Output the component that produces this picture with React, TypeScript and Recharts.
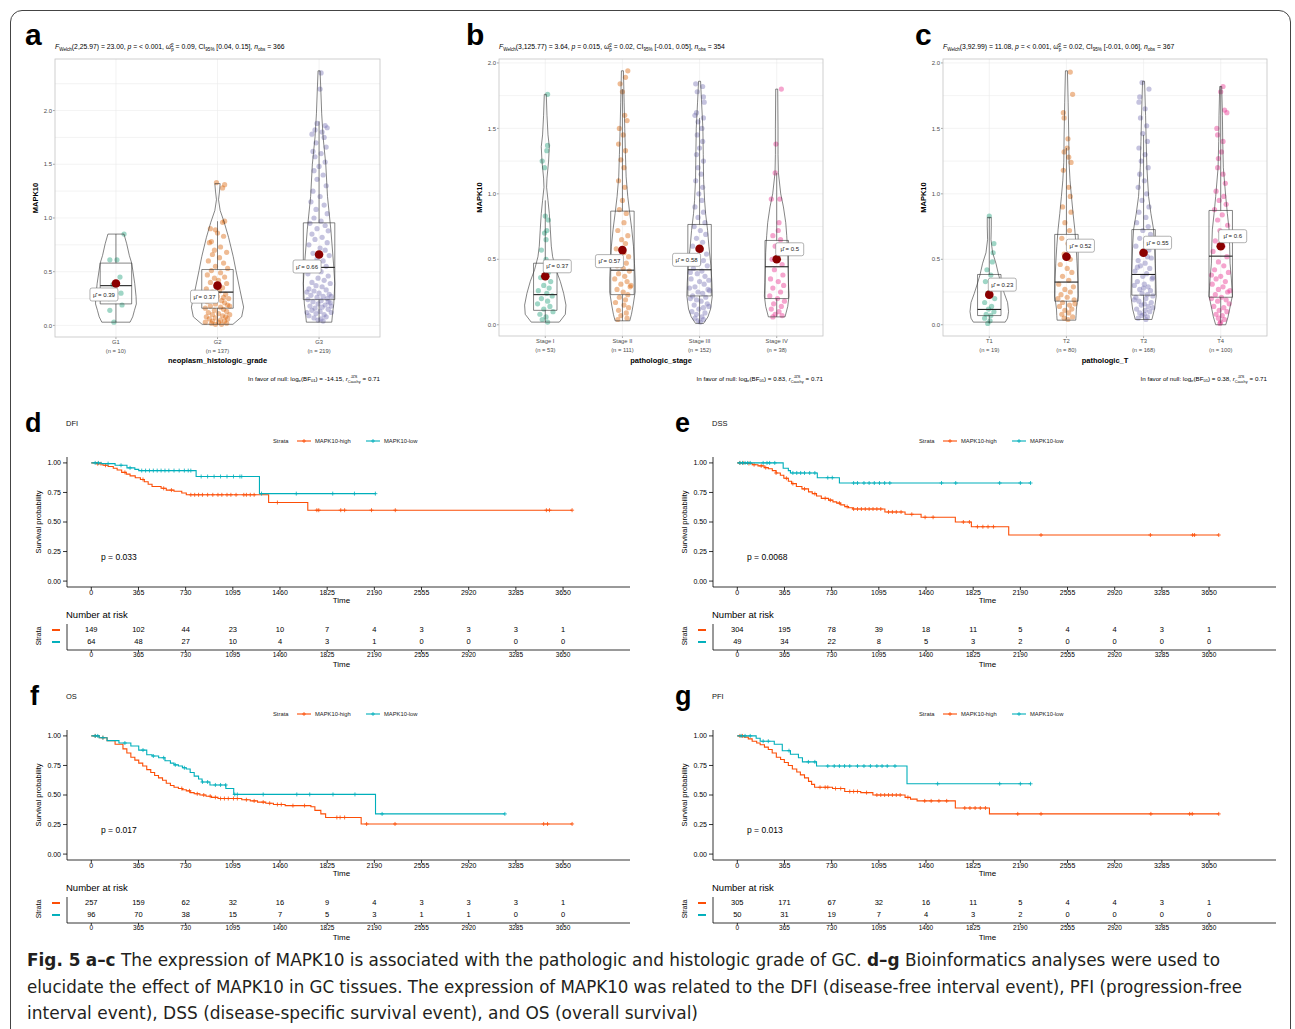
import React from 'react';
import { ComposedChart, ScatterChart, Scatter, XAxis, YAxis, CartesianGrid } from 'recharts';

const SANS = '"Liberation Sans", Arial, Helvetica, sans-serif';
const NARROW = '"Liberation Sans Narrow", "DejaVu Sans Condensed", "Liberation Sans", sans-serif';
const DARK2 = ['#1B9E77', '#D95F02', '#7570B3', '#E7298A'];
const HIGH = '#FC4E07';
const LOW = '#00AFBB';

// ---------- a: histologic grade ----------
const gradeCats = ['G1', 'G2', 'G3'];
const gradeN = [10, 137, 219];
const gradeQ1 = [0.2, 0.16, 0.24];
const gradeMed = [0.37, 0.31, 0.54];
const gradeQ3 = [0.58, 0.52, 0.955];
const gradeLo = [0.03, 0.01, 0.03];
const gradeHi = [0.85, 0.97, 1.9];
const gradeMean = [0.39, 0.37, 0.66];
// violin outline: [value, half width]
const gradeViolin = [
  [[0.85, 0.079], [0.76, 0.106], [0.65, 0.132], [0.58, 0.155], [0.5, 0.168], [0.39, 0.185], [0.27, 0.198], [0.2, 0.201], [0.14, 0.182], [0.08, 0.165], [0.03, 0.139]],
  [[1.32, 0.026], [1.25, 0.02], [1.17, 0.01], [1.07, 0.026], [0.96, 0.066], [0.82, 0.109], [0.64, 0.155], [0.51, 0.182], [0.33, 0.221], [0.17, 0.257], [0.08, 0.238], [0.01, 0.152]],
  [[2.37, 0.01], [2.2, 0.017], [1.97, 0.026], [1.75, 0.04], [1.5, 0.066], [1.2, 0.083], [0.89, 0.116], [0.58, 0.142], [0.39, 0.155], [0.2, 0.145], [0.1, 0.132], [0.03, 0.125]],
];
// points: [value, jitter]
const gradePoints = [
  [[0.85, 0.08], [0.61, -0.06], [0.61, 0.01], [0.45, 0.04], [0.38, -0.03], [0.3, 0.05], [0.25, -0.07], [0.19, 0.06], [0.14, -0.06], [0.03, -0.02]],
  [[1.33, -0.01], [1.31, 0.07], [1.28, 0.05], [0.97, 0.07], [0.96, 0.05], [0.9, -0.07], [0.89, -0.02], [0.86, 0.0], [0.83, 0.06], [0.78, -0.06], [0.77, -0.08], [0.73, 0.03], [0.7, -0.03], [0.68, 0.09], [0.66, -0.05], [0.63, 0.02], [0.6, -0.09], [0.58, 0.06], [0.55, -0.02], [0.53, 0.1], [0.51, -0.06], [0.49, 0.03], [0.47, -0.1], [0.45, 0.07], [0.44, -0.03], [0.42, 0.01], [0.4, -0.07], [0.39, 0.09], [0.37, -0.01], [0.35, 0.05], [0.34, -0.11], [0.32, 0.02], [0.31, -0.05], [0.29, 0.08], [0.28, -0.08], [0.27, 0.0], [0.25, 0.11], [0.24, -0.04], [0.23, 0.04], [0.22, -0.1], [0.21, 0.07], [0.2, -0.02], [0.19, 0.1], [0.18, -0.07], [0.17, 0.03], [0.16, -0.12], [0.15, 0.06], [0.14, -0.03], [0.13, 0.09], [0.12, -0.09], [0.11, 0.01], [0.1, 0.12], [0.1, -0.05], [0.09, 0.05], [0.08, -0.11], [0.08, 0.08], [0.07, -0.02], [0.06, 0.1], [0.06, -0.08], [0.05, 0.03], [0.04, -0.05], [0.04, 0.07], [0.03, -0.12], [0.03, 0.01], [0.02, 0.09], [0.02, -0.06], [0.01, 0.04], [0.01, -0.02], [0.26, 0.06], [0.18, 0.12]],
  [[2.35, 0.02], [2.2, 0.01], [1.88, -0.02], [1.86, 0.06], [1.84, 0.08], [1.82, -0.04], [1.8, 0.03], [1.78, -0.07], [1.75, 0.05], [1.7, -0.03], [1.66, 0.07], [1.62, -0.06], [1.6, 0.02], [1.57, -0.04], [1.52, 0.06], [1.48, 0.0], [1.44, -0.05], [1.4, 0.04], [1.36, -0.02], [1.3, 0.07], [1.25, -0.06], [1.2, 0.01], [1.15, -0.08], [1.12, 0.05], [1.08, -0.03], [1.04, 0.08], [1.0, -0.05], [0.97, 0.02], [0.95, -0.09], [0.93, 0.06], [0.9, -0.02], [0.88, 0.09], [0.85, -0.07], [0.82, 0.03], [0.8, -0.04], [0.77, 0.08], [0.75, -0.1], [0.72, 0.01], [0.7, 0.06], [0.67, -0.06], [0.65, 0.1], [0.62, -0.02], [0.6, 0.04], [0.57, -0.09], [0.55, 0.07], [0.52, -0.04], [0.5, 0.02], [0.48, -0.11], [0.46, 0.09], [0.44, -0.01], [0.42, 0.05], [0.4, -0.07], [0.39, 0.11], [0.37, -0.03], [0.36, 0.03], [0.34, -0.1], [0.33, 0.07], [0.32, -0.05], [0.3, 0.0], [0.29, 0.1], [0.28, -0.08], [0.27, 0.04], [0.26, -0.02], [0.25, 0.08], [0.24, -0.11], [0.23, 0.02], [0.22, -0.06], [0.21, 0.11], [0.2, -0.01], [0.19, 0.06], [0.18, -0.09], [0.17, 0.03], [0.16, -0.04], [0.15, 0.09], [0.14, -0.07], [0.13, 0.01], [0.12, 0.12], [0.11, -0.03], [0.1, 0.05], [0.09, -0.1], [0.08, 0.07], [0.07, -0.05], [0.06, 0.02], [0.05, -0.01], [0.04, 0.04], [0.31, -0.12], [0.27, 0.12], [0.22, 0.09], [0.18, 0.12], [0.12, -0.12]],
];
const gradeNudge = [[-12, 11], [-13, 11], [-12, 12]];

// ---------- b: pathologic stage ----------
const stageCats = ['Stage I', 'Stage II', 'Stage III', 'Stage IV'];
const stageN = [53, 111, 152, 38];
const stageQ1 = [0.11, 0.23, 0.22, 0.2];
const stageMed = [0.23, 0.417, 0.42, 0.443];
const stageQ3 = [0.47, 0.868, 0.766, 0.644];
const stageLo = [0.02, 0.03, 0.01, 0.06];
const stageHi = [0.95, 1.8, 1.58, 1.16];
const stageMean = [0.37, 0.57, 0.58, 0.5];
const stageViolin = [
  [[1.76, 0.013], [1.6, 0.022], [1.45, 0.035], [1.36, 0.052], [1.25, 0.043], [1.12, 0.022], [1.05, 0.017], [0.95, 0.035], [0.85, 0.052], [0.73, 0.065], [0.6, 0.078], [0.52, 0.095], [0.42, 0.139], [0.33, 0.195], [0.24, 0.238], [0.15, 0.268], [0.08, 0.26], [0.02, 0.182]],
  [[1.94, 0.013], [1.7, 0.022], [1.5, 0.03], [1.3, 0.039], [1.13, 0.048], [0.98, 0.069], [0.85, 0.095], [0.73, 0.121], [0.6, 0.143], [0.47, 0.156], [0.35, 0.165], [0.25, 0.165], [0.15, 0.139], [0.08, 0.117], [0.03, 0.095]],
  [[1.86, 0.013], [1.7, 0.026], [1.5, 0.043], [1.3, 0.048], [1.11, 0.052], [0.95, 0.065], [0.85, 0.078], [0.72, 0.104], [0.6, 0.121], [0.45, 0.147], [0.32, 0.16], [0.22, 0.165], [0.12, 0.143], [0.06, 0.108], [0.01, 0.052]],
  [[1.8, 0.013], [1.5, 0.017], [1.3, 0.017], [1.16, 0.022], [1.0, 0.052], [0.9, 0.087], [0.78, 0.117], [0.68, 0.13], [0.55, 0.143], [0.42, 0.147], [0.32, 0.152], [0.22, 0.16], [0.14, 0.143], [0.09, 0.121], [0.06, 0.108]],
];
const stagePoints = [
  [[1.76, 0.03], [1.37, 0.03], [1.33, 0.02], [1.25, -0.04], [1.2, -0.01], [0.83, 0.0], [0.8, 0.04], [0.72, 0.02], [0.7, -0.01], [0.65, 0.01], [0.57, -0.05], [0.5, 0.01], [0.4, 0.04], [0.36, -0.06], [0.33, 0.07], [0.3, -0.02], [0.28, 0.05], [0.26, -0.09], [0.24, 0.02], [0.22, 0.09], [0.2, -0.05], [0.18, 0.03], [0.16, -0.1], [0.14, 0.06], [0.12, -0.02], [0.1, 0.1], [0.08, -0.07], [0.06, 0.01], [0.04, -0.04], [0.02, 0.03]],
  [[1.94, 0.07], [1.89, 0.04], [1.84, -0.03], [1.78, 0.0], [1.6, 0.03], [1.56, 0.06], [1.5, -0.04], [1.45, 0.01], [1.38, -0.05], [1.33, 0.04], [1.26, -0.02], [1.2, 0.02], [1.1, -0.05], [1.05, 0.03], [0.95, 0.0], [0.88, -0.04], [0.85, 0.05], [0.78, 0.02], [0.72, -0.06], [0.68, 0.07], [0.65, -0.01], [0.62, 0.04], [0.58, -0.08], [0.55, 0.02], [0.52, 0.08], [0.5, -0.03], [0.47, 0.05], [0.45, -0.07], [0.43, 0.01], [0.41, 0.09], [0.39, -0.05], [0.37, 0.03], [0.35, -0.1], [0.33, 0.06], [0.31, -0.02], [0.29, 0.1], [0.27, -0.07], [0.25, 0.01], [0.23, 0.07], [0.21, -0.04], [0.19, 0.04], [0.17, -0.09], [0.15, 0.02], [0.13, 0.08], [0.11, -0.05], [0.09, 0.05], [0.07, -0.02], [0.05, 0.06], [0.04, -0.06], [0.3, 0.11]],
  [[1.84, -0.05], [1.82, 0.04], [1.78, -0.03], [1.74, 0.05], [1.7, 0.06], [1.62, -0.04], [1.6, -0.06], [1.58, 0.05], [1.55, -0.02], [1.5, 0.03], [1.45, -0.03], [1.4, 0.04], [1.35, 0.0], [1.3, -0.04], [1.25, 0.05], [1.2, -0.02], [1.15, 0.02], [1.1, -0.05], [1.05, 0.04], [1.0, -0.01], [0.95, 0.03], [0.9, -0.06], [0.86, 0.05], [0.82, -0.02], [0.78, 0.07], [0.75, -0.07], [0.72, 0.01], [0.69, 0.08], [0.66, -0.04], [0.63, 0.04], [0.6, -0.09], [0.57, 0.02], [0.54, 0.09], [0.51, -0.05], [0.49, 0.05], [0.47, -0.01], [0.45, 0.1], [0.43, -0.08], [0.41, 0.03], [0.39, -0.03], [0.37, 0.07], [0.35, -0.11], [0.33, 0.0], [0.31, 0.06], [0.29, -0.06], [0.27, 0.11], [0.25, -0.02], [0.24, 0.04], [0.22, -0.09], [0.21, 0.08], [0.19, -0.04], [0.18, 0.02], [0.16, 0.1], [0.15, -0.07], [0.13, 0.05], [0.12, -0.01], [0.1, -0.1], [0.09, 0.07], [0.08, -0.04], [0.06, 0.03], [0.05, -0.06], [0.04, 0.05], [0.03, -0.02], [0.02, 0.01], [0.26, 0.13], [0.34, 0.12], [0.2, -0.12], [0.28, -0.13], [0.14, 0.12], [0.4, -0.12]],
  [[1.8, 0.06], [1.38, -0.01], [1.16, -0.02], [0.96, -0.07], [0.96, 0.04], [0.78, 0.03], [0.72, 0.02], [0.68, -0.05], [0.65, 0.05], [0.6, -0.02], [0.55, 0.04], [0.5, -0.06], [0.46, 0.07], [0.42, -0.03], [0.38, 0.08], [0.35, -0.08], [0.33, 0.02], [0.3, 0.09], [0.28, -0.05], [0.25, 0.05], [0.22, -0.09], [0.2, 0.01], [0.18, 0.1], [0.16, -0.04], [0.14, 0.06], [0.12, -0.07], [0.1, 0.03], [0.08, -0.02], [0.07, 0.07], [0.06, -0.05]],
];
const stageNudge = [[12, -10], [-13, 11], [-13, 11], [13, -10]];

// ---------- c: pathologic T ----------
const tCats = ['T1', 'T2', 'T3', 'T4'];
const tN = [19, 80, 168, 100];
const tQ1 = [0.07, 0.18, 0.226, 0.21];
const tMed = [0.117, 0.326, 0.384, 0.524];
const tQ3 = [0.384, 0.69, 0.727, 0.873];
const tLo = [0.01, 0.04, 0.04, 0.01];
const tHi = [0.82, 1.35, 1.45, 1.82];
const tMean = [0.23, 0.52, 0.55, 0.6];
const tViolin = [
  [[0.82, 0.026], [0.75, 0.026], [0.65, 0.022], [0.55, 0.043], [0.47, 0.086], [0.38, 0.121], [0.32, 0.151], [0.24, 0.194], [0.17, 0.237], [0.1, 0.25], [0.05, 0.237], [0.02, 0.207]],
  [[1.94, 0.013], [1.7, 0.022], [1.45, 0.03], [1.24, 0.034], [1.1, 0.047], [0.98, 0.065], [0.85, 0.086], [0.73, 0.108], [0.6, 0.125], [0.47, 0.138], [0.35, 0.147], [0.22, 0.151], [0.12, 0.129], [0.07, 0.125], [0.035, 0.121]],
  [[1.86, 0.013], [1.6, 0.026], [1.4, 0.034], [1.2, 0.043], [0.98, 0.065], [0.85, 0.095], [0.73, 0.129], [0.6, 0.142], [0.47, 0.151], [0.35, 0.159], [0.22, 0.164], [0.12, 0.142], [0.09, 0.129], [0.04, 0.108]],
  [[1.82, 0.013], [1.6, 0.022], [1.4, 0.026], [1.2, 0.034], [0.98, 0.065], [0.85, 0.086], [0.73, 0.108], [0.6, 0.116], [0.47, 0.121], [0.35, 0.138], [0.22, 0.151], [0.12, 0.116], [0.06, 0.095], [0.0, 0.065]],
];
const tPoints = [
  [[0.83, 0.0], [0.62, 0.06], [0.55, 0.05], [0.48, 0.04], [0.42, -0.03], [0.38, 0.02], [0.33, -0.05], [0.28, 0.05], [0.24, -0.02], [0.2, 0.07], [0.17, -0.06], [0.14, 0.03], [0.12, -0.01], [0.1, 0.06], [0.08, -0.04], [0.07, 0.02], [0.05, -0.06], [0.03, 0.01], [0.01, -0.02]],
  [[1.93, 0.05], [1.76, 0.08], [1.62, -0.04], [1.58, -0.03], [1.42, 0.02], [1.35, 0.01], [1.32, -0.03], [1.28, 0.03], [1.24, 0.06], [1.18, -0.04], [1.05, 0.03], [0.98, 0.05], [0.9, -0.05], [0.86, 0.06], [0.78, -0.02], [0.72, 0.04], [0.66, -0.06], [0.62, 0.02], [0.58, 0.08], [0.54, -0.03], [0.5, 0.05], [0.46, -0.08], [0.43, 0.01], [0.4, 0.07], [0.37, -0.05], [0.34, 0.03], [0.31, -0.1], [0.29, 0.09], [0.27, -0.02], [0.25, 0.05], [0.23, -0.07], [0.21, 0.01], [0.19, 0.1], [0.17, -0.05], [0.15, 0.04], [0.14, -0.09], [0.12, 0.07], [0.11, -0.02], [0.09, 0.03], [0.08, -0.06], [0.06, 0.08], [0.05, -0.03], [0.04, 0.02], [0.2, -0.11], [0.16, 0.11]],
  [[1.85, -0.02], [1.8, 0.07], [1.74, -0.05], [1.7, -0.06], [1.65, 0.02], [1.58, -0.04], [1.52, 0.04], [1.46, -0.01], [1.4, 0.05], [1.35, -0.06], [1.3, 0.02], [1.25, -0.03], [1.2, 0.06], [1.15, -0.05], [1.1, 0.01], [1.05, -0.07], [1.0, 0.04], [0.95, -0.02], [0.9, 0.07], [0.86, -0.06], [0.82, 0.03], [0.78, -0.09], [0.75, 0.06], [0.72, -0.01], [0.69, 0.09], [0.66, -0.05], [0.63, 0.03], [0.6, -0.1], [0.57, 0.07], [0.54, -0.02], [0.51, 0.1], [0.49, -0.07], [0.47, 0.02], [0.45, -0.04], [0.43, 0.08], [0.41, -0.11], [0.39, 0.04], [0.37, -0.01], [0.35, 0.11], [0.33, -0.08], [0.31, 0.01], [0.29, 0.06], [0.27, -0.05], [0.26, 0.09], [0.24, -0.02], [0.23, 0.05], [0.21, -0.1], [0.2, 0.03], [0.18, -0.06], [0.17, 0.1], [0.15, -0.03], [0.14, 0.06], [0.12, -0.09], [0.11, 0.02], [0.1, 0.08], [0.09, -0.05], [0.08, 0.01], [0.07, -0.02], [0.06, 0.05], [0.05, -0.07], [0.04, 0.03], [0.3, -0.12], [0.22, 0.12], [0.36, 0.12], [0.19, -0.12], [0.44, -0.08], [0.52, 0.05], [0.28, 0.0], [0.16, 0.01], [0.13, 0.12]],
  [[1.82, 0.03], [1.78, 0.0], [1.64, 0.05], [1.62, 0.08], [1.5, -0.05], [1.45, -0.04], [1.4, 0.03], [1.32, 0.01], [1.27, -0.03], [1.2, -0.04], [1.15, 0.03], [1.08, 0.06], [1.02, -0.06], [0.98, 0.04], [0.95, -0.02], [0.92, 0.07], [0.88, -0.08], [0.84, 0.02], [0.8, -0.04], [0.76, 0.09], [0.72, -0.01], [0.68, 0.05], [0.64, -0.07], [0.6, 0.03], [0.56, -0.1], [0.52, 0.08], [0.48, -0.03], [0.45, 0.04], [0.42, -0.08], [0.4, 0.1], [0.37, 0.0], [0.35, -0.06], [0.33, 0.06], [0.31, -0.11], [0.29, 0.03], [0.27, -0.03], [0.25, 0.09], [0.23, -0.07], [0.21, 0.01], [0.19, 0.07], [0.18, -0.04], [0.16, 0.11], [0.14, -0.09], [0.13, 0.04], [0.11, -0.02], [0.1, 0.08], [0.08, -0.06], [0.07, 0.02], [0.05, -0.03], [0.04, 0.05], [0.02, 0.0], [0.01, -0.01], [0.26, 0.12], [0.2, -0.12], [0.38, -0.12]],
];
const tNudge = [[13, -10], [14, -11], [14, -10], [12, -10]];

const exprTicks = [0, 0.5, 1, 1.5, 2];
const exprGrid = [0, 0.25, 0.5, 0.75, 1, 1.25, 1.5, 1.75, 2, 2.25];

// ---------- survival ----------
const timeTicks = [0, 365, 730, 1095, 1460, 1825, 2190, 2555, 2920, 3285, 3650];
const survTicks = [0, 0.25, 0.5, 0.75, 1];

const dfiHigh = [[0, 1], [40, 0.993], [90, 0.98], [130, 0.97], [170, 0.955], [200, 0.94], [235, 0.92], [270, 0.905], [300, 0.89], [340, 0.875], [380, 0.86], [410, 0.84], [440, 0.82], [470, 0.8], [540, 0.785], [580, 0.77], [640, 0.76], [700, 0.745], [735, 0.73], [1372, 0.665], [1675, 0.6], [3720, 0.6]];
const dfiLow = [[0, 1], [77, 0.994], [184, 0.98], [276, 0.958], [337, 0.945], [367, 0.935], [811, 0.885], [1301, 0.74], [2198, 0.74]];
const dfiHighCens = [50, 75, 110, 260, 400, 560, 620, 770, 800, 830, 860, 900, 940, 980, 1010, 1050, 1080, 1120, 1180, 1200, 1230, 1260, 1440, 1745, 1760, 1930, 1960, 2168, 2352, 3521, 3545, 3720];
const dfiLowCens = [30, 55, 130, 230, 300, 390, 420, 450, 480, 510, 540, 570, 600, 640, 680, 720, 750, 770, 850, 900, 950, 1000, 1050, 1100, 1150, 1164, 1317, 1586, 1868, 2036, 2198];
const dfiRiskHigh = [149, 102, 44, 23, 10, 7, 4, 3, 3, 3, 1];
const dfiRiskLow = [64, 48, 27, 10, 4, 3, 1, 0, 0, 0, 0];

const dssHigh = [[0, 1], [60, 0.995], [115, 0.985], [160, 0.975], [208, 0.96], [240, 0.95], [271, 0.935], [300, 0.915], [333, 0.895], [360, 0.87], [395, 0.845], [420, 0.825], [457, 0.8], [500, 0.78], [551, 0.755], [580, 0.74], [613, 0.72], [650, 0.7], [706, 0.685], [740, 0.67], [769, 0.66], [800, 0.645], [831, 0.63], [860, 0.62], [893, 0.61], [1142, 0.585], [1298, 0.565], [1422, 0.54], [1687, 0.5], [1811, 0.46], [2100, 0.39], [3725, 0.39]];
const dssLow = [[0, 1], [355, 0.955], [395, 0.935], [411, 0.915], [619, 0.875], [790, 0.83], [2269, 0.83]];
const dssHighCens = [20, 45, 90, 130, 185, 220, 300, 380, 430, 520, 600, 680, 720, 790, 850, 900, 930, 960, 990, 1020, 1050, 1080, 1110, 1170, 1200, 1230, 1267, 1350, 1453, 1515, 1749, 1796, 1858, 1900, 1940, 1982, 2350, 3196, 3523, 3538, 3725];
const dssLowCens = [20, 40, 60, 80, 100, 200, 230, 250, 290, 430, 460, 490, 520, 560, 600, 700, 735, 900, 930, 980, 1020, 1060, 1100, 1140, 1180, 1580, 1690, 2030, 2190, 2269];
const dssRiskHigh = [304, 195, 78, 39, 18, 11, 5, 4, 4, 3, 1];
const dssRiskLow = [49, 34, 22, 8, 5, 3, 2, 0, 0, 0, 0];

const osHigh = [[0, 1], [61, 0.985], [122, 0.96], [184, 0.93], [245, 0.89], [275, 0.855], [306, 0.82], [337, 0.795], [367, 0.77], [398, 0.745], [429, 0.715], [460, 0.69], [490, 0.665], [520, 0.645], [551, 0.625], [580, 0.6], [612, 0.58], [640, 0.565], [674, 0.555], [705, 0.545], [735, 0.535], [765, 0.52], [796, 0.51], [840, 0.5], [888, 0.49], [930, 0.48], [980, 0.47], [1164, 0.46], [1230, 0.45], [1286, 0.44], [1350, 0.43], [1409, 0.42], [1500, 0.41], [1699, 0.4], [1730, 0.37], [1776, 0.34], [1813, 0.31], [2088, 0.255], [3720, 0.255]];
const osLow = [[0, 1], [61, 0.985], [122, 0.96], [214, 0.94], [306, 0.915], [367, 0.88], [429, 0.84], [470, 0.83], [521, 0.815], [570, 0.79], [612, 0.77], [640, 0.755], [674, 0.745], [705, 0.73], [735, 0.72], [765, 0.69], [796, 0.66], [830, 0.635], [857, 0.61], [918, 0.585], [1041, 0.555], [1102, 0.505], [2199, 0.34], [3200, 0.34]];
const osHighCens = [30, 90, 700, 760, 820, 870, 920, 960, 1000, 1030, 1060, 1100, 1130, 1200, 1260, 1330, 1380, 1440, 1470, 1560, 1650, 1900, 1925, 1960, 2130, 2350, 3500, 3530, 3720];
const osLowCens = [30, 50, 90, 260, 400, 480, 560, 650, 720, 860, 900, 960, 1000, 1040, 1110, 1130, 1330, 1590, 1690, 1870, 2040, 2250, 3200];
const osRiskHigh = [257, 159, 62, 32, 16, 9, 4, 3, 3, 3, 1];
const osRiskLow = [96, 70, 38, 15, 7, 5, 3, 1, 1, 0, 0];

const pfiHigh = [[0, 1], [53, 0.99], [85, 0.975], [115, 0.955], [150, 0.94], [177, 0.925], [210, 0.905], [240, 0.885], [270, 0.855], [302, 0.82], [335, 0.8], [364, 0.775], [395, 0.75], [426, 0.72], [460, 0.695], [488, 0.67], [520, 0.645], [551, 0.615], [575, 0.59], [598, 0.565], [737, 0.555], [831, 0.53], [955, 0.52], [1049, 0.5], [1298, 0.48], [1340, 0.465], [1391, 0.45], [1687, 0.39], [1951, 0.34], [3725, 0.34]];
const pfiLow = [[0, 1], [146, 0.98], [177, 0.955], [286, 0.93], [348, 0.875], [411, 0.845], [473, 0.815], [504, 0.78], [613, 0.745], [1313, 0.595], [2269, 0.595]];
const pfiHighCens = [20, 40, 640, 680, 700, 760, 800, 870, 900, 930, 1000, 1080, 1110, 1140, 1170, 1200, 1230, 1260, 1320, 1450, 1500, 1560, 1620, 1760, 1800, 1840, 1880, 1920, 2170, 2350, 3200, 3500, 3520, 3725];
const pfiLowCens = [30, 60, 100, 200, 240, 400, 550, 600, 700, 750, 790, 830, 870, 930, 980, 1030, 1080, 1120, 1160, 1220, 1550, 2030, 2190, 2269];
const pfiRiskHigh = [305, 171, 67, 32, 16, 11, 5, 4, 4, 3, 1];
const pfiRiskLow = [50, 31, 19, 7, 4, 3, 2, 0, 0, 0, 0];

// ---------- helpers ----------
const noShape = () => <g />;
const overlay: React.CSSProperties = { position: 'absolute', left: 0, top: 0, pointerEvents: 'none' };

const toSteps = (pts: number[][]) => {
  const out = [{ x: pts[0][0], y: pts[0][1] }];
  for (let i = 1; i < pts.length; i++) {
    out.push({ x: pts[i][0], y: pts[i - 1][1] });
    out.push({ x: pts[i][0], y: pts[i][1] });
  }
  return out;
};
const survAt = (pts: number[][], t: number) => {
  let s = pts[0][1];
  for (const p of pts) if (p[0] <= t) s = p[1];
  return s;
};

function Subtitle({ x, df, F, p, w, ci, nobs }: any) {
  return (
    <text x={x} y={49} fontSize={6.8} fontFamily={SANS} fill="#000">
      <tspan fontStyle="italic">F</tspan>
      <tspan fontSize={4.6} dy={1.6}>Welch</tspan>
      <tspan dy={-1.6}>{`(${df}) = ${F}, `}</tspan>
      <tspan fontStyle="italic">p</tspan>
      <tspan>{` = ${p}, `}</tspan>
      <tspan>ω̂</tspan>
      <tspan fontSize={4.6} dy={-2.4}>2</tspan>
      <tspan fontSize={4.6} dx={-2.5} dy={4}>p</tspan>
      <tspan dy={-1.6}>{` = ${w}, CI`}</tspan>
      <tspan fontSize={4.6} dy={1.6}>95%</tspan>
      <tspan dy={-1.6}>{` [${ci}], `}</tspan>
      <tspan fontStyle="italic">n</tspan>
      <tspan fontSize={4.6} dy={1.6}>obs</tspan>
      <tspan dy={-1.6}>{` = ${nobs}`}</tspan>
    </text>
  );
}

function BayesNote({ x, bf }: any) {
  return (
    <text x={x} y={381} fontSize={6.2} fontFamily={SANS} fill="#000" textAnchor="end">
      <tspan>In favor of null: log</tspan>
      <tspan fontSize={4.2} dy={1.4}>e</tspan>
      <tspan dy={-1.4}>(BF</tspan>
      <tspan fontSize={4.2} dy={1.4}>01</tspan>
      <tspan dy={-1.4}>{`) = ${bf}, `}</tspan>
      <tspan fontStyle="italic">r</tspan>
      <tspan fontSize={3.8} dy={1.5}>Cauchy</tspan>
      <tspan fontSize={3.8} dx={-10} dy={-4.3}>JZS</tspan>
      <tspan dx={3.5} dy={2.8}> = 0.71</tspan>
    </text>
  );
}

function ViolinPanel(props: any) {
  const { px, py, pw, ph, letter, letterX, cats, ns, q1, med, q3, lo, hi, mean, violin, points, nudge, yDomain, boxHalf, sub, xTitle, bf } = props;
  const n = cats.length;
  const YW = 22;
  const XH = 26;
  const idx = cats.map((_: string, i: number) => i + 1);

  const CatTick = (t: any) => {
    const i = Math.round(t.payload.value) - 1;
    return (
      <g>
        <text x={t.x} y={t.y + 3} textAnchor="middle" fontSize={5.8} fill="#4d4d4d" fontFamily={SANS}>{cats[i]}</text>
        <text x={t.x} y={t.y + 11.5} textAnchor="middle" fontSize={5.8} fill="#4d4d4d" fontFamily={SANS}>{`(n = ${ns[i]})`}</text>
      </g>
    );
  };

  const MeanMark = (m: any) => {
    const { cx, cy, payload } = m;
    const lx = cx + payload.nx;
    const ly = cy + payload.ny;
    return (
      <g>
        <circle cx={cx} cy={cy} r={4.3} fill="#8B0000" />
        <rect x={lx - 14} y={ly - 6.5} width={28} height={13} rx={2} fill="#fff" stroke="#666" strokeWidth={0.5} />
        <text x={lx} y={ly + 2.1} textAnchor="middle" fontSize={6} fill="#222" fontFamily={SANS}>{`μ̂ = ${payload.m}`}</text>
      </g>
    );
  };

  const dotShape = (color: string) => (d: any) => <circle cx={d.cx} cy={d.cy} r={2.6} fill={color} fillOpacity={0.42} />;

  return (
    <>
      <div style={{ position: 'absolute', left: px - YW, top: py }}>
        <ComposedChart width={pw + YW} height={ph + XH} margin={{ top: 0, right: 0, bottom: 0, left: 0 }}>
          <CartesianGrid stroke="#ebebeb" strokeWidth={0.6} horizontalValues={exprGrid} verticalValues={idx} />
          <XAxis type="number" dataKey="x" domain={[0.4, n + 0.6]} ticks={idx} interval={0} height={XH} tick={<CatTick />} tickSize={2} tickLine={{ stroke: '#4d4d4d', strokeWidth: 0.5 }} axisLine={false} allowDataOverflow />
          <YAxis type="number" dataKey="y" domain={yDomain} ticks={exprTicks} interval={0} width={YW} tickSize={2} tickMargin={1} tickFormatter={(v: number) => v.toFixed(1)} tick={{ fontSize: 6, fill: '#4d4d4d', fontFamily: SANS }} tickLine={{ stroke: '#4d4d4d', strokeWidth: 0.5 }} axisLine={false} allowDataOverflow />
          {points.map((pts: number[][], k: number) => (
            <Scatter key={`p${k}`} data={pts.map(([v, j]) => ({ x: k + 1 + j, y: v }))} shape={dotShape(DARK2[k])} isAnimationActive={false} />
          ))}
          {cats.map((_: string, k: number) => {
            const c = k + 1;
            const box = [
              { x: c - boxHalf, y: q1[k] }, { x: c + boxHalf, y: q1[k] }, { x: c + boxHalf, y: q3[k] },
              { x: c - boxHalf, y: q3[k] }, { x: c - boxHalf, y: q1[k] },
            ];
            return [
              <Scatter key={`b${k}`} data={box} line={{ stroke: '#333', strokeWidth: 0.6 }} shape={noShape} isAnimationActive={false} />,
              <Scatter key={`m${k}`} data={[{ x: c - boxHalf, y: med[k] }, { x: c + boxHalf, y: med[k] }]} line={{ stroke: '#222', strokeWidth: 1.1 }} shape={noShape} isAnimationActive={false} />,
              <Scatter key={`wh${k}`} data={[{ x: c, y: q3[k] }, { x: c, y: hi[k] }]} line={{ stroke: '#333', strokeWidth: 0.6 }} shape={noShape} isAnimationActive={false} />,
              <Scatter key={`wl${k}`} data={[{ x: c, y: q1[k] }, { x: c, y: lo[k] }]} line={{ stroke: '#333', strokeWidth: 0.6 }} shape={noShape} isAnimationActive={false} />,
            ];
          })}
          {violin.map((v: number[][], k: number) => {
            const c = k + 1;
            const right = v.map(([y, h]) => ({ x: c + h, y }));
            const left = [...v].reverse().map(([y, h]) => ({ x: c - h, y }));
            return <Scatter key={`v${k}`} data={[...right, ...left, right[0]]} line={{ stroke: '#333', strokeWidth: 0.6 }} shape={noShape} isAnimationActive={false} />;
          })}
          <Scatter data={mean.map((m: number, k: number) => ({ x: k + 1, y: m, m, nx: nudge[k][0], ny: nudge[k][1] }))} shape={MeanMark} isAnimationActive={false} />
        </ComposedChart>
      </div>
      <svg width={1295} height={1029} style={overlay}>
        <rect x={px} y={py} width={pw} height={ph} fill="none" stroke="#c4c4c4" strokeWidth={0.8} />
        <text x={letterX} y={45} fontSize={30} fontWeight="bold" fontFamily={SANS} fill="#000">{letter}</text>
        <Subtitle x={px} {...sub} />
        <text transform={`translate(${px - 19.5},${py + ph / 2}) rotate(-90)`} textAnchor="middle" dominantBaseline="central" fontSize={7.5} fontWeight="bold" fontFamily={SANS} fill="#000">MAPK10</text>
        <text x={px + pw / 2} y={362.7} textAnchor="middle" fontSize={7.5} fontWeight="bold" fontFamily={SANS} fill="#000">{xTitle}</text>
        <BayesNote x={px + pw} bf={bf} />
      </svg>
    </>
  );
}

function KMPanel(props: any) {
  const { ox, oy, letter, letterX, title, p, high, low, highCens, lowCens, riskHigh, riskLow } = props;
  const W = 563;
  const YW = 30;
  const xDomain = [-188, 4168];
  const cens = (color: string) => (d: any) => (
    <path d={`M${d.cx - 2},${d.cy}h4M${d.cx},${d.cy - 2}v4`} stroke={color} strokeWidth={0.8} fill="none" />
  );
  const RiskText = (d: any) => (
    <text x={d.cx} y={d.cy} textAnchor="middle" dominantBaseline="central" fontSize={7.5} fill="#000" fontFamily={SANS}>{d.payload.n}</text>
  );
  const StrataTick = (t: any) => (
    <line x1={t.x - 15} x2={t.x - 7} y1={t.y} y2={t.y} stroke={t.payload.value === 2 ? HIGH : LOW} strokeWidth={2} />
  );
  const axisStroke = { stroke: '#000', strokeWidth: 0.8 };
  const tickFont = { fontSize: 7, fill: '#000', fontFamily: SANS };
  const midX = ox + 67 + W / 2 - 7;

  return (
    <>
      <div style={{ position: 'absolute', left: ox + 67 - YW, top: oy + 457 }}>
        <ScatterChart width={W + YW} height={130 + 16} margin={{ top: 0, right: 0, bottom: 0, left: 0 }}>
          <XAxis type="number" dataKey="x" domain={xDomain} ticks={timeTicks} interval={0} height={16} tickSize={3} tickMargin={0} axisLine={axisStroke} tickLine={axisStroke} tick={tickFont} allowDataOverflow />
          <YAxis type="number" dataKey="y" domain={[-0.05, 1.05]} ticks={survTicks} interval={0} width={YW} tickSize={4} tickMargin={2} tickFormatter={(v: number) => v.toFixed(2)} axisLine={axisStroke} tickLine={axisStroke} tick={tickFont} allowDataOverflow />
          <Scatter data={toSteps(high)} line={{ stroke: HIGH, strokeWidth: 1.1 }} shape={noShape} isAnimationActive={false} />
          <Scatter data={highCens.map((t: number) => ({ x: t, y: survAt(high, t) }))} shape={cens(HIGH)} isAnimationActive={false} />
          <Scatter data={toSteps(low)} line={{ stroke: LOW, strokeWidth: 1.1 }} shape={noShape} isAnimationActive={false} />
          <Scatter data={lowCens.map((t: number) => ({ x: t, y: survAt(low, t) }))} shape={cens(LOW)} isAnimationActive={false} />
        </ScatterChart>
      </div>
      <div style={{ position: 'absolute', left: ox + 67 - YW, top: oy + 624 }}>
        <ScatterChart width={W + YW} height={26 + 12} margin={{ top: 0, right: 0, bottom: 0, left: 0 }}>
          <XAxis type="number" dataKey="x" domain={xDomain} ticks={timeTicks} interval={0} height={12} tickSize={2} tickMargin={0} axisLine={axisStroke} tickLine={axisStroke} tick={{ ...tickFont, fontSize: 6.5 }} allowDataOverflow />
          <YAxis type="number" dataKey="y" domain={[0.33, 2.5]} ticks={[1, 2]} interval={0} width={YW} tickSize={0} tickMargin={0} tickLine={false} axisLine={axisStroke} tick={<StrataTick />} allowDataOverflow />
          <Scatter data={timeTicks.map((t, i) => ({ x: t, y: 2, n: riskHigh[i] }))} shape={RiskText} isAnimationActive={false} />
          <Scatter data={timeTicks.map((t, i) => ({ x: t, y: 1, n: riskLow[i] }))} shape={RiskText} isAnimationActive={false} />
        </ScatterChart>
      </div>
      <svg width={1295} height={1029} style={overlay}>
        <text x={letterX} y={oy + 432} fontSize={27} fontWeight="bold" fontFamily={SANS} fill="#000">{letter}</text>
        <text x={ox + 66} y={oy + 426} fontSize={7.5} fontFamily={SANS} fill="#111">{title}</text>
        <g fontSize={5.8} fontFamily={SANS} fill="#222">
          <text x={ox + 273} y={oy + 443}>Strata</text>
          <line x1={ox + 297} x2={ox + 311} y1={oy + 441} y2={oy + 441} stroke={HIGH} strokeWidth={1.1} />
          <path d={`M${ox + 302},${oy + 441}h4M${ox + 304},${oy + 439}v4`} stroke={HIGH} strokeWidth={0.8} />
          <text x={ox + 315} y={oy + 443}>MAPK10-high</text>
          <line x1={ox + 366} x2={ox + 380} y1={oy + 441} y2={oy + 441} stroke={LOW} strokeWidth={1.1} />
          <path d={`M${ox + 371},${oy + 441}h4M${ox + 373},${oy + 439}v4`} stroke={LOW} strokeWidth={0.8} />
          <text x={ox + 384} y={oy + 443}>MAPK10-low</text>
        </g>
        <text transform={`translate(${ox + 38},${oy + 522}) rotate(-90)`} textAnchor="middle" dominantBaseline="central" fontSize={7.5} fontFamily={SANS} fill="#000">Survival probability</text>
        <text x={ox + 101} y={oy + 560} fontSize={8.5} fontFamily={SANS} fill="#000">{`p = ${p}`}</text>
        <text x={midX} y={oy + 603} textAnchor="middle" fontSize={8} fontFamily={SANS} fill="#000">Time</text>
        <text x={ox + 66} y={oy + 617.5} fontSize={9.5} fontFamily={SANS} fill="#000">Number at risk</text>
        <text transform={`translate(${ox + 38},${oy + 636}) rotate(-90)`} textAnchor="middle" dominantBaseline="central" fontSize={7} fontFamily={SANS} fill="#000">Strata</text>
        <text x={midX} y={oy + 667} textAnchor="middle" fontSize={8} fontFamily={SANS} fill="#000">Time</text>
      </svg>
    </>
  );
}

export default function App() {
  return (
    <div style={{ position: 'absolute', left: 0, top: 0, width: 1295, height: 1029, background: '#fff', overflow: 'hidden', fontFamily: SANS }}>
      <div style={{ position: 'absolute', left: 10, top: 10, width: 1281, height: 1100, border: '1px solid #444', borderRadius: 12, boxSizing: 'border-box' }} />
      <ViolinPanel px={55} py={59} pw={325} ph={278} letter="a" letterX={25} cats={gradeCats} ns={gradeN} q1={gradeQ1} med={gradeMed} q3={gradeQ3} lo={gradeLo} hi={gradeHi} mean={gradeMean} violin={gradeViolin} points={gradePoints} nudge={gradeNudge} yDomain={[-0.108, 2.48]} boxHalf={0.155}
        sub={{ df: '2,25.97', F: '23.00', p: '< 0.001', w: '0.09', ci: '0.04, 0.15', nobs: 366 }} xTitle="neoplasm_histologic_grade" bf="-14.15" />
      <ViolinPanel px={499} py={59} pw={324} ph={277} letter="b" letterX={466} cats={stageCats} ns={stageN} q1={stageQ1} med={stageMed} q3={stageQ3} lo={stageLo} hi={stageHi} mean={stageMean} violin={stageViolin} points={stagePoints} nudge={stageNudge} yDomain={[-0.086, 2.03]} boxHalf={0.152}
        sub={{ df: '3,125.77', F: '3.64', p: '0.015', w: '0.02', ci: '-0.01, 0.05', nobs: 354 }} xTitle="pathologic_stage" bf="0.83" />
      <ViolinPanel px={943} py={59} pw={324} ph={277} letter="c" letterX={915} cats={tCats} ns={tN} q1={tQ1} med={tMed} q3={tQ3} lo={tLo} hi={tHi} mean={tMean} violin={tViolin} points={tPoints} nudge={tNudge} yDomain={[-0.086, 2.03]} boxHalf={0.152}
        sub={{ df: '3,92.99', F: '11.08', p: '< 0.001', w: '0.02', ci: '-0.01, 0.06', nobs: 367 }} xTitle="pathologic_T" bf="0.38" />

      <KMPanel ox={0} oy={0} letter="d" letterX={25} title="DFI" p="0.033" high={dfiHigh} low={dfiLow} highCens={dfiHighCens} lowCens={dfiLowCens} riskHigh={dfiRiskHigh} riskLow={dfiRiskLow} />
      <KMPanel ox={646} oy={0} letter="e" letterX={675} title="DSS" p="0.0068" high={dssHigh} low={dssLow} highCens={dssHighCens} lowCens={dssLowCens} riskHigh={dssRiskHigh} riskLow={dssRiskLow} />
      <KMPanel ox={0} oy={273} letter="f" letterX={30} title="OS" p="0.017" high={osHigh} low={osLow} highCens={osHighCens} lowCens={osLowCens} riskHigh={osRiskHigh} riskLow={osRiskLow} />
      <KMPanel ox={646} oy={273} letter="g" letterX={675} title="PFI" p="0.013" high={pfiHigh} low={pfiLow} highCens={pfiHighCens} lowCens={pfiLowCens} riskHigh={pfiRiskHigh} riskLow={pfiRiskLow} />

      <svg width={1295} height={1029} style={overlay}>
        <g fontFamily={NARROW} fontSize={18.5} fill="#231f20">
          <text x={27} y={966} textLength={1193} lengthAdjust="spacingAndGlyphs">
            <tspan fontWeight="bold">Fig. 5</tspan>
            <tspan>{'  '}</tspan>
            <tspan fontWeight="bold">a–c</tspan>
            <tspan>{' The expression of MAPK10 is associated with the pathologic and histologic grade of GC. '}</tspan>
            <tspan fontWeight="bold">d–g</tspan>
            <tspan>{' Bioinformatics analyses were used to'}</tspan>
          </text>
          <text x={27} y={993} textLength={1215} lengthAdjust="spacingAndGlyphs">elucidate the effect of MAPK10 in GC tissues. The expression of MAPK10 was related to the DFI (disease-free interval event), PFI (progression-free</text>
          <text x={27} y={1019} textLength={671} lengthAdjust="spacingAndGlyphs">interval event), DSS (disease-specific survival event), and OS (overall survival)</text>
        </g>
      </svg>
    </div>
  );
}
